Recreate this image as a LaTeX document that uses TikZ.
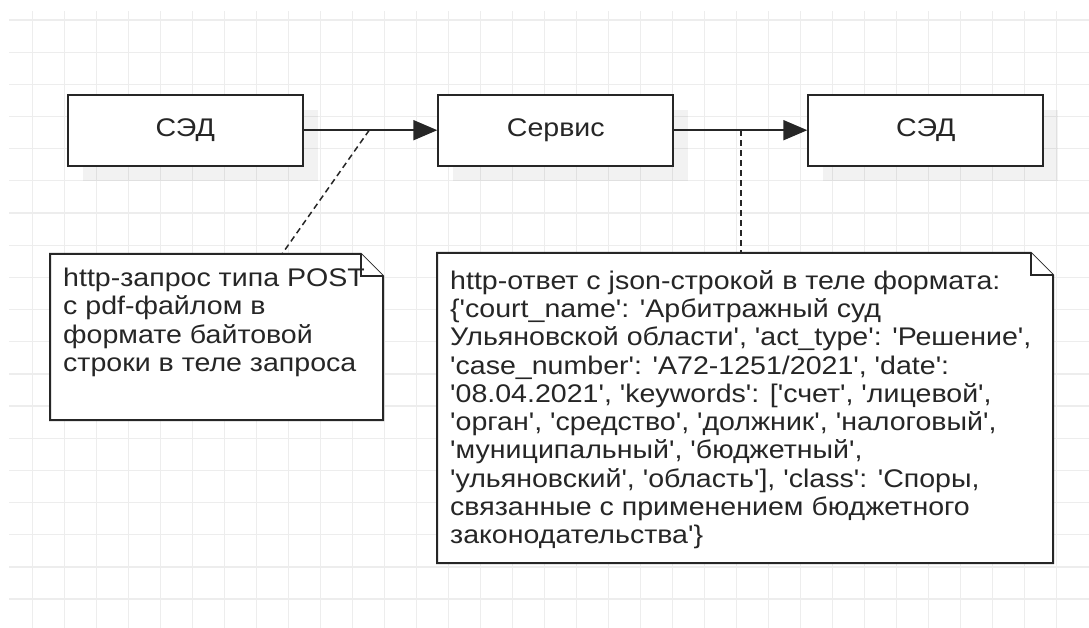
\documentclass[tikz,border=0pt]{standalone}
\usepackage{fontspec}
\setmainfont[Ligatures=TeXOff,FakeStretch=1.12]{Liberation Sans}
\usetikzlibrary{arrows.meta,calc,shadows}

\begin{document}
\begin{tikzpicture}[x=1pt,y=-1pt,
	box/.style={draw=black!85, line width=2pt, fill=white, minimum width=235pt, minimum height=71pt, inner sep=0pt,
		font=\fontsize{25.5}{28.3}\selectfont, text=black!85,
		drop shadow={shadow xshift=15pt, shadow yshift=-15pt, fill=black, opacity=0.05}},
	flow/.style={line width=2pt, draw=black!85, -{Triangle[length=24pt,width=20pt]}},
	link/.style={line width=1.5pt, draw=black!85, dash pattern=on 6pt off 4pt},
	note/.style={draw=black!85, line width=2pt, fill=white},
	notetext/.style={anchor=north west, align=left, inner sep=0pt, text=black!85, font=\fontsize{25.5}{28.3}\selectfont}]
	
	\useasboundingbox (0,0) rectangle (1089,628);
	
	% grid
	\foreach \gx in {0,...,32}
		\draw [black!7, line width=1.3pt] (32.3+32*\gx,11) -- (32.3+32*\gx,628);
	\foreach \gy in {0,...,18}
		\draw [black!7, line width=1.3pt] (9,20+32.17*\gy) -- (1089,20+32.17*\gy);
	
	\node [box] (sed1) at (185.3,130.2) {СЭД};
	\node [box] (srv) at (555.8,130.2) {Сервис};
	\node [box] (sed2) at (925.8,130.2) {СЭД};
	
	\draw [flow] (sed1) -- (srv);
	\draw [flow] (srv) -- (sed2);
	
	\coordinate (tap1) at ($(sed1.east)!0.49!(srv.west)$);
	\coordinate (tap2) at ($(srv.east)!0.5!(sed2.west)$);
	
	% request note
	\draw [note] (50,254) -- (361,254) -- (383,276) -- (383,420) -- (50,420) -- cycle;
	\draw [note] (361,254) -- (361,276) -- (383,276);
	\coordinate (reqtop) at (282,254);
	\node [notetext] (req) at (63,268) {http-запрос типа POST\\с pdf-файлом в\\формате байтовой\\строки в теле запроса};
	
	% response note
	\draw [note] (437,253) -- (1031,253) -- (1053,275) -- (1053,563) -- (437,563) -- cycle;
	\draw [note] (1031,253) -- (1031,275) -- (1053,275);
	\coordinate (resptop) at ($(tap2)+(0,123)$);
	\node [notetext] (resp) at (450,270) {http-ответ с json-строкой в теле формата:\\
		\{'court\_name': 'Арбитражный суд\\
		Ульяновской области', 'act\_type': 'Решение',\\
		'case\_number': 'А72-1251/2021', 'date':\\
		'08.04.2021', 'keywords': ['счет', 'лицевой',\\
		'орган', 'средство', 'должник', 'налоговый',\\
		'муниципальный', 'бюджетный',\\
		'ульяновский', 'область'], 'class': 'Споры,\\
		связанные с применением бюджетного\\
		законодательства'\}};
	
	\draw [link] (tap1) -- (reqtop);
	\draw [link] (tap2) -- (resptop);
	
\end{tikzpicture}
\end{document}
